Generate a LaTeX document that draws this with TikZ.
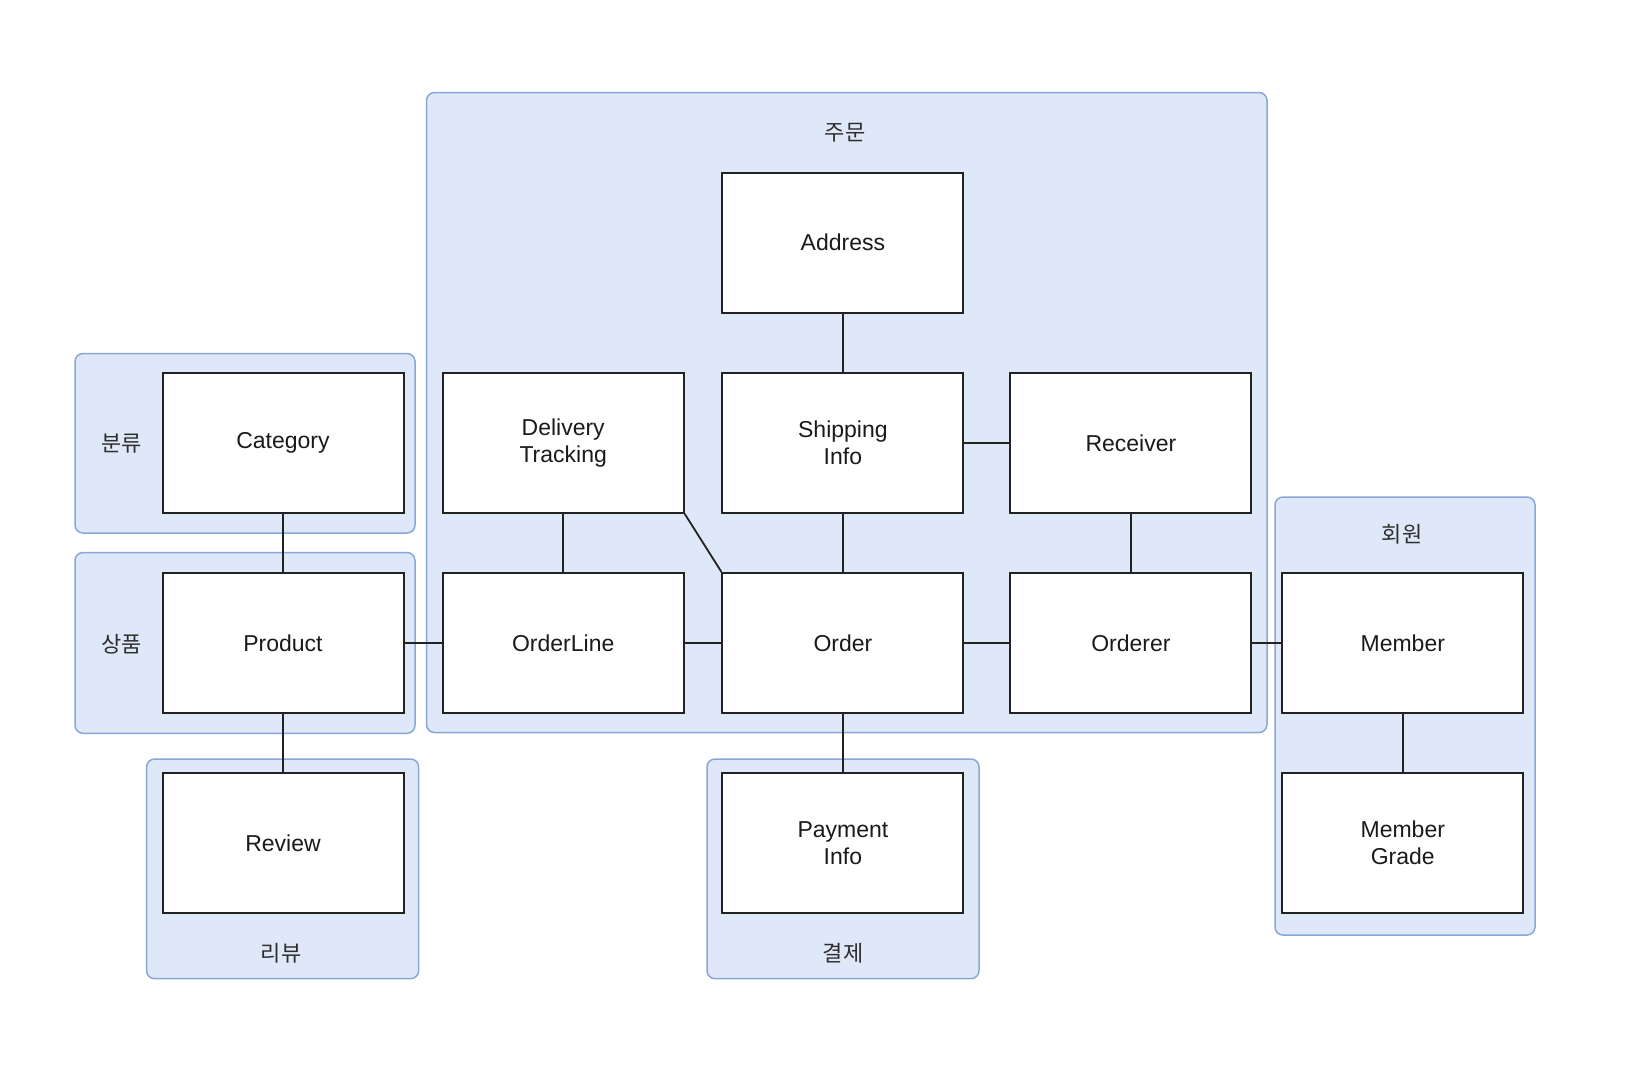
\documentclass[tikz,border=0pt]{standalone}
\usepackage{fontspec}
\setmainfont{Liberation Sans}
\newfontfamily\krfont{Noto Sans CJK KR}
\definecolor{grpfill}{HTML}{DFE8F9}
\definecolor{grpline}{HTML}{8AA6D6}
\definecolor{boxline}{HTML}{222222}
\definecolor{txt}{HTML}{1A1A1A}
\definecolor{lbl}{HTML}{2E2E2E}
\begin{document}
\begin{tikzpicture}[x=1pt,y=-1pt,
  grp/.style={draw=grpline,fill=grpfill,line width=1.5pt,rounded corners=8pt},
  grplabel/.style={text=lbl,font=\krfont\fontsize{22}{26}\selectfont,inner sep=0pt},
  ent/.style={draw=boxline,fill=white,line width=2pt,minimum width=241pt,minimum height=140pt,
    align=center,text=txt,font=\fontsize{23}{27}\selectfont,inner sep=0pt},
  link/.style={draw=boxline,line width=1.8pt}]
\useasboundingbox (0,0) rectangle (1646,1088);
% groups
\draw[grp] (426.5,92.5) rectangle (1267,732.5);
\draw[grp] (75,353.5) rectangle (415,533);
\draw[grp] (75,552.5) rectangle (415,733.3);
\draw[grp] (146.6,759) rectangle (418.6,978.7);
\draw[grp] (707,759) rectangle (979,978.7);
\draw[grp] (1275,497) rectangle (1535,935);
\node[grplabel] (lorder) at (845,133) {주문};
\node[grplabel] (lcat) at (121.7,444) {분류};
\node[grplabel] (lprod) at (121.7,644) {상품};
\node[grplabel] (lrev) at (281,953) {리뷰};
\node[grplabel] (lpay) at (843,953) {결제};
\node[grplabel] (lmem) at (1402,534) {회원};
% entities
\node[ent] (address) at (842.9,242.7) {Address};
\node[ent] (category) at (283,442.8) {Category};
\node[ent] (delivery) at (563.2,442.8) {Delivery\\Tracking};
\node[ent] (shipping) at (842.9,442.8) {Shipping\\Info};
\node[ent] (receiver) at (1130.9,442.8) {Receiver};
\node[ent] (product) at (283,642.9) {Product};
\node[ent] (orderline) at (563.2,642.9) {OrderLine};
\node[ent] (order) at (842.9,642.9) {Order};
\node[ent] (orderer) at (1130.9,642.9) {Orderer};
\node[ent] (member) at (1402.8,642.9) {Member};
\node[ent] (review) at (283,842.9) {Review};
\node[ent] (payment) at (842.9,842.9) {Payment\\Info};
\node[ent] (grade) at (1402.8,842.9) {Member\\Grade};
% connectors
\draw[link] (category) -- (product);
\draw[link] (product) -- (review);
\draw[link] (product) -- (orderline);
\draw[link] (delivery) -- (orderline);
\draw[link] (delivery.south east) -- (order.north west);
\draw[link] (address) -- (shipping);
\draw[link] (shipping) -- (receiver);
\draw[link] (shipping) -- (order);
\draw[link] (receiver) -- (orderer);
\draw[link] (orderline) -- (order);
\draw[link] (order) -- (orderer);
\draw[link] (orderer) -- (member);
\draw[link] (order) -- (payment);
\draw[link] (member) -- (grade);
\end{tikzpicture}
\end{document}
